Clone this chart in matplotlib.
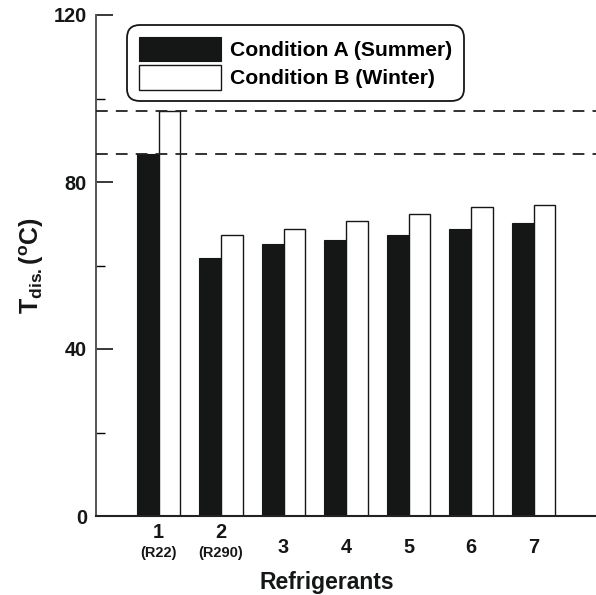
import matplotlib
matplotlib.use("Agg")
import matplotlib.pyplot as plt
import numpy as np
from matplotlib.ticker import MultipleLocator

plt.rcParams['font.family'] = ['Liberation Sans', 'DejaVu Sans']
plt.rcParams['font.weight'] = 'bold'
plt.rcParams['mathtext.fontset'] = 'custom'
plt.rcParams['mathtext.rm'] = 'Liberation Sans:bold'
plt.rcParams['mathtext.bf'] = 'Liberation Sans:bold'
plt.rcParams['mathtext.it'] = 'Liberation Sans:bold'

refrigerants = [1, 2, 3, 4, 5, 6, 7]
tick_labels = ['1', '2', '3', '4', '5', '6', '7']
sub_labels = {1: '(R22)', 2: '(R290)'}
summer = [86.7, 61.7, 65.1, 66.0, 67.2, 68.8, 70.2]
winter = [97.0, 67.2, 68.8, 70.6, 72.3, 74.1, 74.6]
ref_lines = [86.7, 97.0]
series_names = ['Condition A (Summer)', 'Condition B (Winter)']

fig = plt.figure(figsize=(5.96, 5.95), dpi=100)
ax = fig.add_axes([96/596, 1-516/595, 500/596, 501/595])

x = np.array(refrigerants, dtype=float)
w = 0.35
ax.bar(x - w/2, summer, w, color='#151716', edgecolor='#151716', linewidth=0.8,
       label=series_names[0], zorder=2)
ax.bar(x + w/2, winter, w, color='white', edgecolor='#151716', linewidth=1.0,
       label=series_names[1], zorder=2)

for v in ref_lines:
    ax.axhline(v, color='#222222', linewidth=1.3, linestyle=(0, (6.5, 4.5)), zorder=3)

ax.set_xlim(0, 8)
ax.set_ylim(0, 120)
ax.yaxis.set_major_locator(MultipleLocator(40))
ax.yaxis.set_minor_locator(MultipleLocator(20))
ax.tick_params(axis='y', which='major', direction='in', length=12, width=1.2,
               labelsize=14.3, pad=6.5, colors='#151716')
ax.tick_params(axis='y', which='minor', direction='in', length=6.5, width=1.0)

ax.set_xticks(refrigerants)
ax.set_xticklabels(['' if r in sub_labels else t for r, t in zip(refrigerants, tick_labels)])
ax.tick_params(axis='x', length=0, labelsize=14.3, pad=15.5, colors='#151716')

trans = ax.get_xaxis_transform()
for r, t in zip(refrigerants, tick_labels):
    if r in sub_labels:
        ax.text(r, -0.014, t, transform=trans, ha='center', va='top',
                fontsize=14.3, fontweight='bold', color='#151716')
        ax.text(r, -0.059, sub_labels[r], transform=trans, ha='center', va='top',
                fontsize=10.5, fontweight='bold', color='#151716')

for s in ['top', 'right']:
    ax.spines[s].set_visible(False)
ax.spines['left'].set_linewidth(1.4)
ax.spines['left'].set_color('#555555')
ax.spines['bottom'].set_linewidth(1.5)
ax.spines['bottom'].set_color('#222222')

ax.set_xlabel('Refrigerants', fontsize=16.5, fontweight='bold', color='#151716')
ax.xaxis.set_label_coords(0.462, -0.110)
ax.set_ylabel(r'$\mathregular{T_{dis.}(^{o}C)}$', fontsize=18, fontweight='bold',
              color='#151716')
ax.yaxis.set_label_coords(-0.100, 0.5)

leg = ax.legend(loc='upper left', bbox_to_anchor=(0.062, 0.98), borderaxespad=0,
                fontsize=15.2, handlelength=3.9, handleheight=1.4, labelspacing=0.2,
                handletextpad=0.43, borderpad=0.55, fancybox=True, frameon=True,
                edgecolor='#151716', framealpha=1)
leg.get_frame().set_linewidth(1.3)
leg.get_frame().set_boxstyle('round', pad=0, rounding_size=0.6)
for t in leg.get_texts():
    t.set_fontweight('bold')

fig.savefig('out.png', dpi=100)
